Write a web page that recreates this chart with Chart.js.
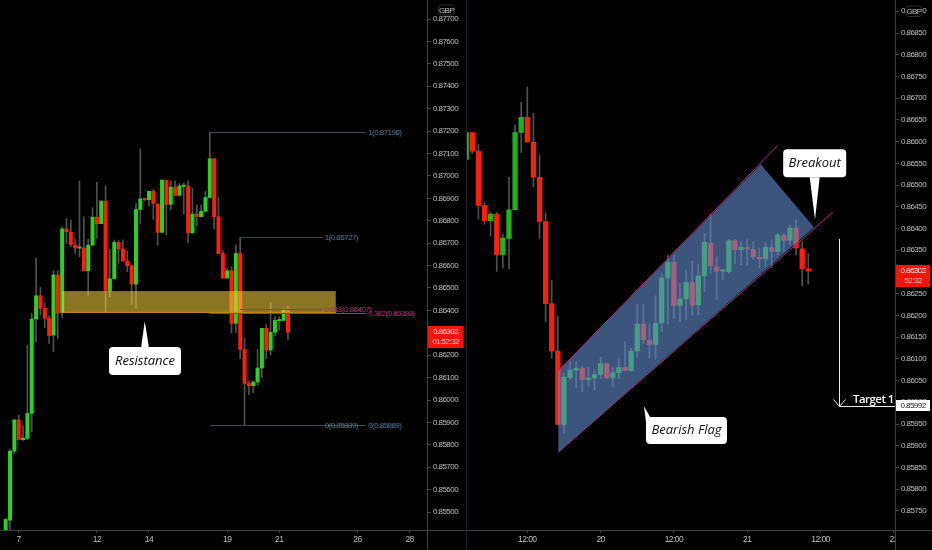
<!DOCTYPE html>
<html>
<head>
<meta charset="utf-8">
<title>EURGBP</title>
<script src="https://cdn.jsdelivr.net/npm/chart.js@4/dist/chart.umd.min.js"></script>
<style>
  html, body { margin: 0; padding: 0; background: #000; overflow: hidden; }
  canvas { position: absolute; top: 0; }
  #left_chart { left: 0; }
  #right_chart { left: 467px; }
</style>
</head>
<body>
<canvas id="left_chart" width="467" height="550"></canvas>
<canvas id="right_chart" width="465" height="550"></canvas>
<script>
//left panel candles (daily-ish 4h)
const leftOpen = [.85415,.85464,.85772,.85911,.85823,.85829,.85940,.86361,.86465,.86409,.86364,.86290,.86558,.86390,.86763,.86748,.86691,.86678,.86678,.86577,.86691,.86816,.86787,.86888,.86486,.86541,.86703,.86674,.86620,.86599,.86517,.86850,.86898,.86894,.86931,.86874,.86748,.86981,.86873,.86950,.86913,.86953,.86955,.86746,.86830,.86818,.86842,.86904,.87077,.86818,.86654,.86544,.86577,.86342,.86654,.86226,.86074,.86064,.86080,.86143,.86320,.86223,.86302,.86354,.86355,.86398];
const leftHigh = [.85473,.85779,.85915,.85933,.85885,.86245,.86387,.86632,.86503,.86431,.86376,.86577,.86577,.86773,.86810,.86803,.86717,.86977,.86818,.86718,.86858,.86971,.86888,.86956,.86674,.86714,.86711,.86714,.86665,.86602,.86877,.87120,.86899,.86931,.86940,.86877,.86984,.86981,.86977,.86977,.86966,.86969,.86978,.86944,.86870,.86870,.86932,.87195,.87077,.86904,.86666,.86587,.86595,.86691,.86727,.86275,.86085,.86085,.86226,.86320,.86339,.86434,.86372,.86372,.86409,.86419];
const leftLow = [.85415,.85420,.85759,.85824,.85820,.85824,.85859,.86260,.86379,.86324,.86253,.86215,.86275,.86367,.86699,.86684,.86654,.86639,.86577,.86468,.86691,.86724,.86787,.86394,.86461,.86541,.86610,.86620,.86572,.86427,.86409,.86785,.86890,.86865,.86806,.86691,.86748,.86737,.86848,.86913,.86913,.86830,.86702,.86744,.86776,.86818,.86842,.86904,.86763,.86654,.86544,.86544,.86300,.86300,.86184,.85889,.86025,.86033,.86067,.86101,.86184,.86201,.86285,.86312,.86355,.86268];
const leftClose = [.85467,.85772,.85911,.85824,.85830,.85940,.86361,.86465,.86409,.86364,.86287,.86558,.86390,.86763,.86751,.86694,.86678,.86678,.86577,.86691,.86816,.86787,.86888,.86486,.86541,.86703,.86674,.86620,.86599,.86517,.86850,.86898,.86894,.86931,.86877,.86748,.86981,.86873,.86950,.86913,.86955,.86959,.86746,.86830,.86818,.86842,.86904,.87077,.86818,.86654,.86544,.86577,.86342,.86654,.86226,.86074,.86064,.86080,.86143,.86320,.86223,.86302,.86355,.86358,.86401,.86302];
const leftPriceTicks = [.877,.876,.875,.874,.873,.872,.871,.87,.869,.868,.867,.866,.865,.864,.863,.862,.861,.86,.859,.858,.857,.856,.855];
const leftTimeTicks = [3,21,33,51,63,81,93];
const leftTimeLabels = ['7','12','14','19','21','26','28'];

//right panel candles (1h)
const rightOpen = [.86559,.86621,.86578,.86453,.86418,.86433,.86340,.86377,.86443,.86621,.86656,.86599,.86518,.86416,.86227,.86118,.85949,.86057,.86074,.86078,.86052,.86056,.86064,.86089,.86056,.86068,.86080,.86073,.86118,.86180,.86143,.86133,.86183,.86286,.86322,.86223,.86238,.86276,.86224,.86291,.86366,.86312,.86302,.86301,.86372,.86351,.86356,.86352,.86334,.86330,.86356,.86347,.86384,.86373,.86401,.86353,.86307];
const rightHigh = [.86621,.86621,.86594,.86460,.86437,.86437,.86387,.86518,.86638,.86691,.86726,.86665,.86569,.86436,.86281,.86197,.86066,.86093,.86093,.86083,.86080,.86074,.86104,.86089,.86080,.86102,.86140,.86124,.86226,.86226,.86181,.86245,.86295,.86339,.86339,.86274,.86305,.86325,.86318,.86389,.86434,.86335,.86305,.86375,.86375,.86370,.86374,.86370,.86355,.86368,.86374,.86389,.86389,.86408,.86420,.86370,.86342];
const rightLow = [.86559,.86573,.86422,.86410,.86383,.86301,.86309,.86307,.86443,.86575,.86599,.86496,.86377,.86185,.86101,.85949,.85929,.86052,.86033,.86024,.86037,.86028,.86054,.86054,.86035,.86054,.86073,.86071,.86104,.86135,.86102,.86099,.86163,.86180,.86193,.86186,.86190,.86201,.86201,.86255,.86297,.86237,.86282,.86296,.86319,.86316,.86315,.86329,.86309,.86312,.86310,.86339,.86347,.86362,.86339,.86268,.86272];
const rightClose = [.86621,.86578,.86453,.86418,.86433,.86340,.86378,.86443,.86621,.86656,.86599,.86518,.86416,.86227,.86118,.85949,.86058,.86074,.86078,.86052,.86056,.86064,.86089,.86056,.86068,.86080,.86073,.86118,.86180,.86144,.86133,.86182,.86286,.86322,.86223,.86238,.86276,.86224,.86291,.86368,.86314,.86302,.86302,.86372,.86351,.86357,.86353,.86335,.86330,.86357,.86347,.86385,.86373,.86401,.86355,.86307,.86302];
const rightPriceTicks = [.869,.8685,.868,.8675,.867,.8665,.866,.8655,.865,.8645,.864,.8635,.863,.8625,.862,.8615,.861,.8605,.86,.8595,.859,.8585,.858,.8575];
const rightTimeTicks = [10,22,34,46,58,70];
const rightTimeLabels = ['12:00','20','12:00','21','12:00','22'];

//drawings on the left panel, in candle index and price
const zoneFrom = 13, zoneTo = 76, zoneTop = .86486, zoneBottom = .86389;
const fibPrices = [.87196,.86727,.86407,.86388,.85889,.85889];
const fibStart = [47,54,54,47,47,54];
const fibEnd = [83,73,73,83,83,73];
const fibTexts = ['1(0.87196)','1(0.86727)','0.618(0.86407)','0.382(0.86388)','0(0.85889)','0(0.85889)'];

//drawings on the right panel
const flagIndex = [15.08,48.21,56.93,15.08];
const flagPrice = [.86072,.86548,.86403,.85885];
const upperRail = [[15.08,.86072],[50.99,.86591]];
const lowerRail = [[15.08,.85885],[59.99,.86437]];
const targetIndex = 61.02, targetFrom = .86376, targetPrice = .85992;

const GREEN_L = '#25d422', GREEN_R = '#1eb51a', RED = '#ff1e0c', WICK = '#505050';
const AXIS = '#414141', TEXT = '#bdbdbd';
const FONT = '"Liberation Sans", Arial, sans-serif';
const SMALL_GAP = '-0.55px'; //axis text in the picture is narrower than any installed font

function candles(open, high, low, close, upColor, bodyWidth) {
  return [
    {
      data: high.map((h, i) => ({x: i, y: [low[i], h]})),
      backgroundColor: WICK, barThickness: 1, order: 2
    },
    {
      data: open.map((o, i) => ({x: i, y: [o, close[i]]})),
      backgroundColor: open.map((o, i) => close[i] >= o ? upColor : RED),
      barThickness: bodyWidth, minBarLength: 1.2, order: 1
    }
  ];
}

function options(xMin, xMax, yMin, yMax, timeTicks, timeLabels, priceTicks, axisWidth) {
  return {
    responsive: false, animation: false, events: [],
    layout: {padding: 0, autoPadding: false},
    datasets: {bar: {grouped: false, borderWidth: 0}},
    plugins: {legend: {display: false}, tooltip: {enabled: false}},
    scales: {
      x: {
        type: 'linear', offset: false, min: xMin, max: xMax,
        grid: {offset: false, drawOnChartArea: false, color: AXIS, tickLength: 3},
        border: {display: false},
        afterBuildTicks: s => { s.ticks = timeTicks.map(v => ({value: v})); },
        afterFit: s => { s.height = 20; s.paddingLeft = 0; s.paddingRight = 0; },
        ticks: {
          color: TEXT, font: {family: FONT, size: 8.5}, padding: 2,
          autoSkip: false, maxRotation: 0,
          callback: (v, i) => timeLabels[i]
        }
      },
      y: {
        position: 'right', min: yMin, max: yMax,
        grid: {drawOnChartArea: false, color: AXIS, tickLength: 3},
        border: {display: false},
        afterBuildTicks: s => { s.ticks = priceTicks.map(v => ({value: v})); },
        afterFit: s => { s.width = axisWidth; s.paddingTop = 0; s.paddingBottom = 0; },
        ticks: {
          color: TEXT, font: {family: FONT, size: 8}, padding: 2,
          autoSkip: false,
          callback: v => v.toFixed(5)
        }
      }
    }
  };
}

const narrowText = {
  id: 'narrowText',
  beforeDraw(chart) {
    chart.ctx.letterSpacing = SMALL_GAP;
  }
};

function badge(ctx, x, y, w, h) {
  ctx.fillStyle = '#000';
  ctx.strokeStyle = '#2c2c2c';
  ctx.beginPath();
  ctx.roundRect(x, y, w, h, 3);
  ctx.fill();
  ctx.stroke();
  ctx.fillStyle = TEXT;
  ctx.font = '8px ' + FONT;
  ctx.textAlign = 'center';
  ctx.textBaseline = 'middle';
  ctx.fillText('GBP', x + w / 2, y + h / 2 + .5);
}

function priceTag(ctx, x, y, w, h, lines) {
  ctx.fillStyle = '#fb1208';
  ctx.fillRect(x, y, w, h);
  ctx.font = '8px ' + FONT;
  ctx.textAlign = 'center';
  ctx.textBaseline = 'middle';
  ctx.fillStyle = '#fff';
  ctx.fillText(lines[0], x + w / 2, y + h * .27);
  ctx.fillStyle = '#ffc8c0';
  ctx.fillText(lines[1], x + w / 2, y + h * .74);
}

//white speech bubble, cx/cy and tip are in chart values so they follow the scales
function callout(chart, text, i, price, w, h, tipI, tipPrice, baseL, baseR) {
  const {ctx, scales} = chart;
  const cx = scales.x.getPixelForValue(i), cy = scales.y.getPixelForValue(price);
  const tx = scales.x.getPixelForValue(tipI), ty = scales.y.getPixelForValue(tipPrice);
  ctx.fillStyle = '#fff';
  ctx.beginPath();
  ctx.roundRect(cx - w / 2, cy - h / 2, w, h, 4);
  ctx.fill();
  ctx.beginPath();
  ctx.moveTo(tx, ty);
  ctx.lineTo(cx + baseL[0], cy + baseL[1]);
  ctx.lineTo(cx + baseR[0], cy + baseR[1]);
  ctx.closePath();
  ctx.fill();
  ctx.fillStyle = '#111';
  ctx.letterSpacing = '0px';
  ctx.font = 'italic 13px "Open Sans", ' + FONT;
  ctx.textAlign = 'center';
  ctx.textBaseline = 'middle';
  ctx.fillText(text, cx, cy);
  ctx.letterSpacing = SMALL_GAP;
}

const leftDrawings = {
  id: 'leftDrawings',
  afterDatasetsDraw(chart) {
    const {ctx, scales: {x, y}} = chart;
    ctx.save();
    //resistance zone
    const zx = x.getPixelForValue(zoneFrom), zw = x.getPixelForValue(zoneTo) - zx;
    const zy = y.getPixelForValue(zoneTop), zh = y.getPixelForValue(zoneBottom) - zy;
    ctx.fillStyle = 'rgba(240,205,60,.58)';
    ctx.fillRect(zx, zy, zw, zh);
    ctx.fillStyle = '#c98f12';
    ctx.fillRect(zx, zy + zh - 1, zw, 1);
    //fib levels
    fibPrices.forEach((p, k) => {
      const py = Math.round(y.getPixelForValue(p)) + .5;
      const x0 = x.getPixelForValue(fibStart[k]), x1 = x.getPixelForValue(fibEnd[k]);
      const pink = k === 2 || k === 3;
      ctx.strokeStyle = pink ? '#b12a6e' : '#37474f';
      ctx.lineWidth = 1;
      ctx.beginPath();
      ctx.moveTo(x0, py);
      ctx.lineTo(x1, py);
      ctx.stroke();
      ctx.fillStyle = pink ? '#b12a6e' : '#457a94';
      ctx.font = '8px ' + FONT;
      ctx.textAlign = 'left';
      ctx.textBaseline = 'middle';
      ctx.fillText(fibTexts[k], x1 + 2, py);
    });
    callout(chart, 'Resistance', 32.08, .86174, 72, 28, 32.03, .86352, [-4, -13], [4, -13]);
    //axis frame
    ctx.fillStyle = AXIS;
    ctx.fillRect(427, 0, 1, 550);
    ctx.fillRect(0, 530, 467, 1);
    ctx.fillStyle = '#1b2230';
    ctx.fillRect(466, 0, 1, 550);
    priceTag(ctx, 428, 326, 35, 22, ['0.86302', '01:52:32']);
    badge(ctx, 438.5, 5, 16, 10);
    ctx.restore();
  }
};

const rightDrawings = {
  id: 'rightDrawings',
  afterDatasetsDraw(chart) {
    const {ctx, chartArea, scales: {x, y}} = chart;
    ctx.save();
    //bearish flag channel
    ctx.fillStyle = 'rgba(100,142,208,.6)';
    ctx.beginPath();
    flagIndex.forEach((v, k) => {
      const px = x.getPixelForValue(v), py = y.getPixelForValue(flagPrice[k]);
      k === 0 ? ctx.moveTo(px, py) : ctx.lineTo(px, py);
    });
    ctx.closePath();
    ctx.fill();
    ctx.strokeStyle = '#b02f88';
    ctx.lineWidth = 1;
    [upperRail, lowerRail].forEach(rail => {
      ctx.beginPath();
      ctx.moveTo(x.getPixelForValue(rail[0][0]), y.getPixelForValue(rail[0][1]));
      ctx.lineTo(x.getPixelForValue(rail[1][0]), y.getPixelForValue(rail[1][1]));
      ctx.stroke();
    });
    callout(chart, 'Breakout', 57.05, .8655, 63, 28, 57.1, .86421, [-5, 14], [5, 14]);
    callout(chart, 'Bearish Flag', 36.06, .85935, 81, 27, 29.1, .85991, [-40, -5], [-36, -13]);
    //target arrow
    const ax = Math.round(x.getPixelForValue(targetIndex)) + .5;
    const ay0 = y.getPixelForValue(targetFrom), ay1 = Math.round(y.getPixelForValue(targetPrice)) + .5;
    ctx.strokeStyle = '#e8e8e8';
    ctx.beginPath();
    ctx.moveTo(ax, ay0);
    ctx.lineTo(ax, ay1);
    ctx.lineTo(chartArea.right, ay1);
    ctx.moveTo(ax - 6, ay1 - 7);
    ctx.lineTo(ax, ay1);
    ctx.lineTo(ax + 6, ay1 - 7);
    ctx.stroke();
    ctx.save();
    ctx.beginPath();
    ctx.rect(chartArea.left, chartArea.top, chartArea.right - chartArea.left, chartArea.bottom);
    ctx.clip();
    ctx.fillStyle = '#f2f2f2';
    ctx.font = '600 11.5px "Open Sans", ' + FONT;
    ctx.textAlign = 'left';
    ctx.textBaseline = 'middle';
    ctx.fillText('Target 1', 386, ay1 - 7);
    ctx.restore();
    //the last time label is cut by the price axis
    ctx.fillStyle = '#000';
    ctx.fillRect(429, 531, 36, 19);
    ctx.fillStyle = AXIS;
    ctx.fillRect(428, 0, 1, 550);
    ctx.fillRect(0, 530, 465, 1);
    priceTag(ctx, 429, 265, 34, 22, ['0.86302', '52:32']);
    ctx.fillStyle = '#fff';
    ctx.fillRect(429, 400, 34, 11);
    ctx.fillStyle = '#222';
    ctx.font = '8px ' + FONT;
    ctx.textAlign = 'center';
    ctx.textBaseline = 'middle';
    ctx.fillText('0.85992', 446, 405.5);
    badge(ctx, 439, 6, 16, 10.5);
    ctx.restore();
  }
};

new Chart(document.getElementById('left_chart'), {
  type: 'bar',
  data: {datasets: candles(leftOpen, leftHigh, leftLow, leftClose, GREEN_L, 3.3)},
  options: options(-1.306, 97.24, .8542, .87785, leftTimeTicks, leftTimeLabels, leftPriceTicks, 39),
  plugins: [narrowText, leftDrawings]
});

new Chart(document.getElementById('right_chart'), {
  type: 'bar',
  data: {datasets: candles(rightOpen, rightHigh, rightLow, rightClose, GREEN_R, 4.6)},
  options: options(.13, 70.36, .85706, .86926, rightTimeTicks, rightTimeLabels, rightPriceTicks, 36),
  plugins: [narrowText, rightDrawings]
});
</script>
</body>
</html>
